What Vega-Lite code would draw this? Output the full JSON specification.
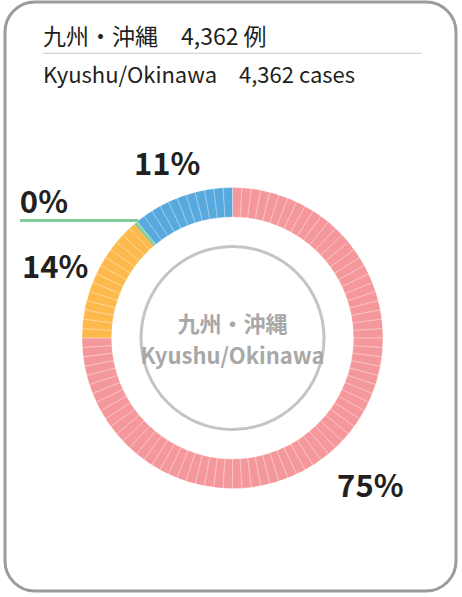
{
  "$schema": "https://vega.github.io/schema/vega-lite/v6.json",
  "width": 451,
  "height": 589,
  "autosize": "none",
  "padding": {"left": 5, "top": 2, "right": 6, "bottom": 6},
  "background": "white",
  "view": {"stroke": "#9b9b9b", "strokeWidth": 3, "cornerRadius": 30, "fill": "white"},
  "config": {"view": {"stroke": "#9b9b9b", "strokeWidth": 3, "cornerRadius": 30}},
  "title": {
    "text": "九州・沖縄　4,362 例",
    "subtitle": "Kyushu/Okinawa　4,362 cases",
    "anchor": "start",
    "frame": "group",
    "orient": "top",
    "offset": -84.5,
    "dx": 38,
    "font": "Noto Sans CJK JP",
    "fontSize": 23,
    "fontWeight": "normal",
    "color": "#231f20",
    "subtitleFont": "Noto Sans CJK JP",
    "subtitleFontSize": 22,
    "subtitleFontWeight": "normal",
    "subtitleColor": "#231f20",
    "subtitlePadding": 16
  },
  "datasets": {
    "regions": [
      {"category": "区分1", "count": 3272, "label": "75%", "order": 1},
      {"category": "区分2", "count": 596, "label": "14%", "order": 2},
      {"category": "区分3", "count": 20, "label": "0%", "order": 3},
      {"category": "区分4", "count": 474, "label": "11%", "order": 4}
    ],
    "cells": [
      {"cell": 1, "share": 1}, {"cell": 2, "share": 1}, {"cell": 3, "share": 1}, {"cell": 4, "share": 1}, {"cell": 5, "share": 1},
      {"cell": 6, "share": 1}, {"cell": 7, "share": 1}, {"cell": 8, "share": 1}, {"cell": 9, "share": 1}, {"cell": 10, "share": 1},
      {"cell": 11, "share": 1}, {"cell": 12, "share": 1}, {"cell": 13, "share": 1}, {"cell": 14, "share": 1}, {"cell": 15, "share": 1},
      {"cell": 16, "share": 1}, {"cell": 17, "share": 1}, {"cell": 18, "share": 1}, {"cell": 19, "share": 1}, {"cell": 20, "share": 1},
      {"cell": 21, "share": 1}, {"cell": 22, "share": 1}, {"cell": 23, "share": 1}, {"cell": 24, "share": 1}, {"cell": 25, "share": 1},
      {"cell": 26, "share": 1}, {"cell": 27, "share": 1}, {"cell": 28, "share": 1}, {"cell": 29, "share": 1}, {"cell": 30, "share": 1},
      {"cell": 31, "share": 1}, {"cell": 32, "share": 1}, {"cell": 33, "share": 1}, {"cell": 34, "share": 1}, {"cell": 35, "share": 1},
      {"cell": 36, "share": 1}, {"cell": 37, "share": 1}, {"cell": 38, "share": 1}, {"cell": 39, "share": 1}, {"cell": 40, "share": 1},
      {"cell": 41, "share": 1}, {"cell": 42, "share": 1}, {"cell": 43, "share": 1}, {"cell": 44, "share": 1}, {"cell": 45, "share": 1},
      {"cell": 46, "share": 1}, {"cell": 47, "share": 1}, {"cell": 48, "share": 1}, {"cell": 49, "share": 1}, {"cell": 50, "share": 1},
      {"cell": 51, "share": 1}, {"cell": 52, "share": 1}, {"cell": 53, "share": 1}, {"cell": 54, "share": 1}, {"cell": 55, "share": 1},
      {"cell": 56, "share": 1}, {"cell": 57, "share": 1}, {"cell": 58, "share": 1}, {"cell": 59, "share": 1}, {"cell": 60, "share": 1},
      {"cell": 61, "share": 1}, {"cell": 62, "share": 1}, {"cell": 63, "share": 1}, {"cell": 64, "share": 1}, {"cell": 65, "share": 1},
      {"cell": 66, "share": 1}, {"cell": 67, "share": 1}, {"cell": 68, "share": 1}, {"cell": 69, "share": 1}, {"cell": 70, "share": 1},
      {"cell": 71, "share": 1}, {"cell": 72, "share": 1}, {"cell": 73, "share": 1}, {"cell": 74, "share": 1}, {"cell": 75, "share": 1},
      {"cell": 76, "share": 1}, {"cell": 77, "share": 1}, {"cell": 78, "share": 1}, {"cell": 79, "share": 1}, {"cell": 80, "share": 1},
      {"cell": 81, "share": 1}, {"cell": 82, "share": 1}, {"cell": 83, "share": 1}, {"cell": 84, "share": 1}, {"cell": 85, "share": 1},
      {"cell": 86, "share": 1}, {"cell": 87, "share": 1}, {"cell": 88, "share": 1}, {"cell": 89, "share": 1}, {"cell": 90, "share": 1},
      {"cell": 91, "share": 1}, {"cell": 92, "share": 1}, {"cell": 93, "share": 1}, {"cell": 94, "share": 1}, {"cell": 95, "share": 1},
      {"cell": 96, "share": 1}, {"cell": 97, "share": 1}, {"cell": 98, "share": 1}, {"cell": 99, "share": 1}, {"cell": 100, "share": 1}
    ],
    "center": [{"name_ja": "九州・沖縄", "name_en": "Kyushu/Okinawa"}]
  },
  "layer": [
    {
      "data": {"values": [{}]},
      "mark": {"type": "rule", "color": "#c8c8c8", "strokeWidth": 1},
      "encoding": {"x": {"value": 38}, "x2": {"value": 416.5}, "y": {"value": 51.3}}
    },
    {
      "data": {"name": "regions"},
      "mark": {"type": "arc", "outerRadius": 150.5, "innerRadius": 121, "xOffset": 2, "yOffset": 41.5},
      "encoding": {
        "theta": {"field": "count", "type": "quantitative", "stack": true},
        "order": {"field": "order", "type": "quantitative"},
        "color": {
          "field": "category",
          "type": "nominal",
          "scale": {"domain": ["区分1", "区分2", "区分3", "区分4"], "range": ["#f5989b", "#fdb94b", "#7fcb9a", "#58a9dd"]},
          "legend": null
        }
      }
    },
    {
      "data": {"name": "cells"},
      "mark": {"type": "arc", "outerRadius": 150.5, "innerRadius": 121, "fillOpacity": 0, "stroke": "white", "strokeWidth": 0.8, "strokeOpacity": 0.3, "xOffset": 2, "yOffset": 41.5},
      "encoding": {
        "theta": {"field": "share", "type": "quantitative", "stack": true},
        "order": {"field": "cell", "type": "quantitative"}
      }
    },
    {
      "data": {"values": [{}]},
      "mark": {"type": "rule", "color": "#7fcb9a", "strokeWidth": 3},
      "encoding": {"x": {"value": 15}, "x2": {"value": 133.5}, "y": {"value": 218.6}}
    },
    {
      "data": {"name": "center"},
      "mark": {"type": "arc", "theta": 0, "theta2": 6.2832, "outerRadius": 91.5, "innerRadius": 0, "fillOpacity": 0, "stroke": "#c4c4c4", "strokeWidth": 3, "xOffset": 2, "yOffset": 41.5},
      "encoding": {}
    },
    {
      "data": {"name": "center"},
      "mark": {"type": "text", "font": "Noto Sans CJK JP", "fontWeight": "bold", "fontSize": 22, "color": "#a8a8a8", "align": "center", "baseline": "alphabetic", "xOffset": 2, "yOffset": 41.5, "dy": -6},
      "encoding": {"text": {"field": "name_ja"}}
    },
    {
      "data": {"name": "center"},
      "mark": {"type": "text", "font": "Noto Sans CJK JP", "fontWeight": "bold", "fontSize": 22, "color": "#a8a8a8", "align": "center", "baseline": "alphabetic", "xOffset": 2, "yOffset": 41.5, "dy": 26},
      "encoding": {"text": {"field": "name_en"}}
    },
    {
      "data": {"name": "regions"},
      "mark": {"type": "text", "radius": 195, "font": "Noto Sans CJK JP", "fontWeight": "bold", "fontSize": 31, "color": "#231f20", "align": "center", "baseline": "middle", "xOffset": 2, "yOffset": 41.5, "dy": 12},
      "encoding": {
        "theta": {"field": "count", "type": "quantitative", "stack": true},
        "order": {"field": "order", "type": "quantitative"},
        "text": {"condition": {"test": "datum.count >= 100", "field": "label"}, "value": ""}
      }
    },
    {
      "data": {"name": "regions"},
      "mark": {"type": "text", "radius": 150.5, "font": "Noto Sans CJK JP", "fontWeight": "bold", "fontSize": 31, "color": "#231f20", "align": "left", "baseline": "alphabetic", "xOffset": 2, "yOffset": 41.5, "dx": -116, "dy": -10},
      "encoding": {
        "theta": {"field": "count", "type": "quantitative", "stack": true},
        "order": {"field": "order", "type": "quantitative"},
        "text": {"condition": {"test": "datum.count < 100", "field": "label"}, "value": ""}
      }
    }
  ],
  "resolve": {"scale": {"theta": "independent"}}
}
